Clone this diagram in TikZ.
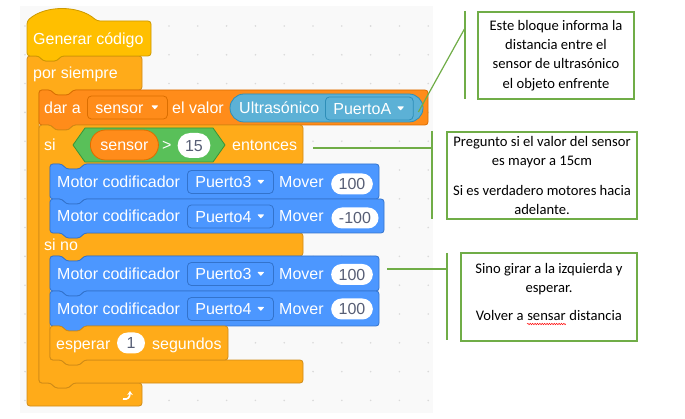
\documentclass[tikz,border=0pt]{standalone}
\usepackage{fontspec}
\usepackage{xcolor}
\usepackage{tikz}
\usetikzlibrary{positioning,arrows.meta,decorations.pathmorphing}
\newfontfamily\scratchfont{Liberation Sans}
\newfontfamily\notefont{Carlito}
\definecolor{scyellow}{RGB}{255, 191, 0}
\definecolor{scyellowdk}{RGB}{204, 153, 0}
\definecolor{scorange}{RGB}{255, 171, 25}
\definecolor{scorangedk}{RGB}{207, 139, 23}
\definecolor{scvar}{RGB}{255, 140, 26}
\definecolor{scvardk}{RGB}{219, 110, 0}
\definecolor{scgreen}{RGB}{89, 192, 89}
\definecolor{scgreendk}{RGB}{56, 148, 56}
\definecolor{scblue}{RGB}{76, 151, 255}
\definecolor{scbluedk}{RGB}{51, 115, 204}
\definecolor{scsense}{RGB}{92, 177, 214}
\definecolor{scsensedk}{RGB}{46, 142, 184}
\definecolor{scnum}{RGB}{87, 94, 117}
\definecolor{bggray}{RGB}{249, 249, 249}
\definecolor{dotgray}{RGB}{218, 218, 218}
\definecolor{notegreen}{RGB}{112, 173, 71}
\tikzset{
  blk/.style={line width=0.8pt, rounded corners=3pt},
  notchR/.style={insert path={-- ++(4,5) -- ++(14,0) -- ++(4,-5)}},
  notchL/.style={insert path={-- ++(-4,5) -- ++(-14,0) -- ++(-4,-5)}},
  btext/.style={text=white, font=\scratchfont\fontsize{16}{18}\selectfont, anchor=base west, inner sep=0pt},
  field/.style={text=white, font=\scratchfont\fontsize{16}{18}\selectfont, anchor=west,
    rounded corners=4pt, line width=0.8pt, minimum height=23pt, inner xsep=8pt, inner ysep=0pt,
    text height=11.5pt, text depth=0pt},
  oval/.style={fill=white, text=scnum, font=\scratchfont\fontsize{16}{18}\selectfont,
    rounded corners=10.5pt, minimum height=21pt, minimum width=28pt, inner xsep=7.5pt, inner ysep=0pt,
    text height=11.5pt, text depth=0pt},
  note/.style={draw=notegreen, line width=1.1pt, align=center, inner sep=0pt,
    font=\notefont\fontsize{14.6}{19.3}\selectfont},
  notetext/.style={font=\notefont\fontsize{14.6}{19.3}\selectfont, inner sep=0pt},
  leader/.style={draw=notegreen, line width=1.2pt}
}
\newcommand{\ddarrow}[1]{\fill[white, rounded corners=0.6pt] ([xshift=-16.5pt,yshift=2pt]#1.east) -- ++(7,0) -- ++(-3.5,4) -- cycle;}

\begin{document}
\begin{tikzpicture}[x=1pt,y=-1pt]
% Canvas
\fill[white] (0,0) rectangle (685,419);
\useasboundingbox (0,0) rectangle (685,419);
\fill[bggray] (20,6) rectangle (433,413);
\foreach \i in {0,...,14}
  \foreach \j in {0,...,13}
    \fill[dotgray] (25+28.8*\i,26+28.8*\j) circle (0.9);

% por siempre
\draw[blk, fill=scorange, draw=scorangedk] (27,56) -- (39,56) [notchR] -- (142,56) -- (142,90) -- (73,90) [notchL] -- (39,90) -- (39,383) -- (51,383) [notchR] -- (142,383) -- (142,406) -- (27,406) -- cycle;
% Generar codigo
\draw[blk, fill=scyellow, draw=scyellowdk] (27,21) .. controls (45,5) and (79,5) .. (97,21) -- (151,21) -- (151,56) -- (61,56) [notchL] -- (27,56) -- cycle;
% dar a
\draw[blk, fill=scvar, draw=scvardk] (39,90) -- (51,90) [notchR] -- (428,90) -- (428,125) -- (73,125) [notchL] -- (39,125) -- cycle;
% si / si no
\draw[blk, fill=scorange, draw=scorangedk] (39,125) -- (51,125) [notchR] -- (303,125) -- (303,164) -- (84,164) [notchL] -- (50,164) -- (50,233) -- (62,233) [notchR] -- (303,233) -- (303,256) -- (84,256) [notchL] -- (50,256) -- (50,360) -- (62,360) [notchR] -- (303,360) -- (303,383) -- (73,383) [notchL] -- (39,383) -- cycle;
% Motores
\draw[blk, fill=scblue, draw=scbluedk] (50,164) -- (62,164) [notchR] -- (379,164) -- (379,199) -- (84,199) [notchL] -- (50,199) -- cycle;
\draw[blk, fill=scblue, draw=scbluedk] (50,199) -- (62,199) [notchR] -- (384,199) -- (384,233) -- (84,233) [notchL] -- (50,233) -- cycle;
\draw[blk, fill=scblue, draw=scbluedk] (50,256) -- (62,256) [notchR] -- (379,256) -- (379,291) -- (84,291) [notchL] -- (50,291) -- cycle;
\draw[blk, fill=scblue, draw=scbluedk] (50,291) -- (62,291) [notchR] -- (379,291) -- (379,326) -- (84,326) [notchL] -- (50,326) -- cycle;
% esperar
\draw[blk, fill=scorange, draw=scorangedk] (50,326) -- (62,326) [notchR] -- (228,326) -- (228,360) -- (84,360) [notchL] -- (50,360) -- cycle;
% Condicion
\draw[fill=scgreen, draw=scgreendk, line width=0.8pt] (73,145) -- (85,128) -- (213,128) -- (225,145) -- (213,162) -- (85,162) -- cycle;

% Textos de los bloques
\node[btext] (gen) at (33,44.5) {Generar código};
\node[btext] (siempre) at (33,79) {por siempre};
\node[btext] (dara) at (44,113.5) {dar a};
\node[field, fill=scvar, draw=scvardk] (ddsensor) at (87,107.5) {sensor\kern16pt};
\ddarrow{ddsensor}
\node[btext] (elvalor) at (172,113.5) {el valor};
\node[fill=scsense, draw=scsensedk, line width=0.8pt, rounded corners=14pt, minimum width=193pt, minimum height=28pt] (ultra) at (326.5,108) {};
\node[btext] (ultratxt) at (239,113.5) {Ultrasónico};
\node[field, fill=scsense, draw=scsensedk] (ddpuertoa) at (325,108.5) {PuertoA\kern14pt};
\ddarrow{ddpuertoa}

\node[btext] (si) at (44,151) {si};
\node[field, fill=scvar, draw=scvardk, rounded corners=15pt, minimum height=30pt, inner xsep=10pt] (repsensor) at (90,145) {sensor};
\node[btext] (mayor) at (162,151) {>};
\node[oval, minimum height=25pt, rounded corners=12.5pt, minimum width=32pt] (quince) at (194,145.5) {15};
\node[btext] (entonces) at (232,151) {entonces};

\node[btext] (motor1) at (57,187.5) {Motor codificador};
\node[field, fill=scblue, draw=scbluedk] (ddp1) at (187,182) {Puerto3\kern14pt};
\ddarrow{ddp1}
\node[btext] (mover1) at (279,187.5) {Mover};
\node[oval] (val1) at (352,184) {100};

\node[btext] (motor2) at (57,222) {Motor codificador};
\node[field, fill=scblue, draw=scbluedk] (ddp2) at (187,216.5) {Puerto4\kern14pt};
\ddarrow{ddp2}
\node[btext] (mover2) at (279,222) {Mover};
\node[oval] (val2) at (355,218) {-100};

\node[btext] (sino) at (44,250.5) {si no};

\node[btext] (motor3) at (57,279.5) {Motor codificador};
\node[field, fill=scblue, draw=scbluedk] (ddp3) at (187,274) {Puerto3\kern14pt};
\ddarrow{ddp3}
\node[btext] (mover3) at (279,279.5) {Mover};
\node[oval] (val3) at (352,274.5) {100};

\node[btext] (motor4) at (57,314.5) {Motor codificador};
\node[field, fill=scblue, draw=scbluedk] (ddp4) at (187,309) {Puerto4\kern14pt};
\ddarrow{ddp4}
\node[btext] (mover4) at (279,314.5) {Mover};
\node[oval] (val4) at (352,309) {100};

\node[btext] (esperar) at (56,349) {esperar};
\node[oval] (uno) at (131,343) {1};
\node[btext] (segundos) at (152,349) {segundos};

% Flecha de repeticion
\draw[white, line width=1.6pt, -{Stealth[length=4pt,width=5.5pt]}] (123,399) .. controls (128,400) and (130,397) .. (130,391);

% Notas
\node[note, minimum width=156pt, minimum height=87pt] (nota1) at (556,55.5) {Este bloque informa la\\distancia entre el\\sensor de ultrasónico\\el objeto enfrente};
\node[note, minimum width=190pt, minimum height=87pt] (nota2) at (542,175.5) {Pregunto si el valor del sensor\\es mayor a 15cm\\[10.7pt]Si es verdadero motores hacia\\adelante.};
\node[note, minimum width=176pt, minimum height=88pt] (nota3) at (549,297) {};
\node[notetext, align=center, font=\notefont\fontsize{14.6}{18.5}\selectfont] (nota3a) at (549,279) {Sino girar a la izquierda y\\esperar.};
\node[notetext, anchor=base] (sensar) at (546.5,321) {sensar};
\node[notetext, anchor=base east] (volver) at ([xshift=-3.3pt]sensar.base west) {Volver a};
\node[notetext, anchor=base west] (distancia) at ([xshift=3.3pt]sensar.base east) {distancia};
\draw[red, line width=0.5pt, decorate, decoration={snake, amplitude=0.7pt, segment length=2.4pt}] ([yshift=-3pt]sensar.base west) -- ([yshift=-3pt]sensar.base east);

% Lineas de llamada
\coordinate (b1top) at (465,11);
\coordinate (b1bot) at (465,99);
\coordinate (b1knee) at (465,28);
\coordinate (b1end) at ([xshift=-5pt,yshift=-4pt]ultra.east);
\draw[leader] (b1top) -- (b1bot);
\draw[leader] (b1knee) -- (b1end);
\coordinate (b2top) at (432,131);
\coordinate (b2bot) at (432,219);
\coordinate (b2knee) at (432,148);
\coordinate (b2end) at (313,148);
\draw[leader] (b2top) -- (b2bot);
\draw[leader] (b2knee) -- (b2end);
\coordinate (b3top) at (447,253);
\coordinate (b3bot) at (447,340);
\coordinate (b3knee) at (447,269);
\coordinate (b3end) at (387,269);
\draw[leader, line width=1.7pt] (b3top) -- (b3bot);
\draw[leader] (b3knee) -- (b3end);
\end{tikzpicture}
\end{document}
